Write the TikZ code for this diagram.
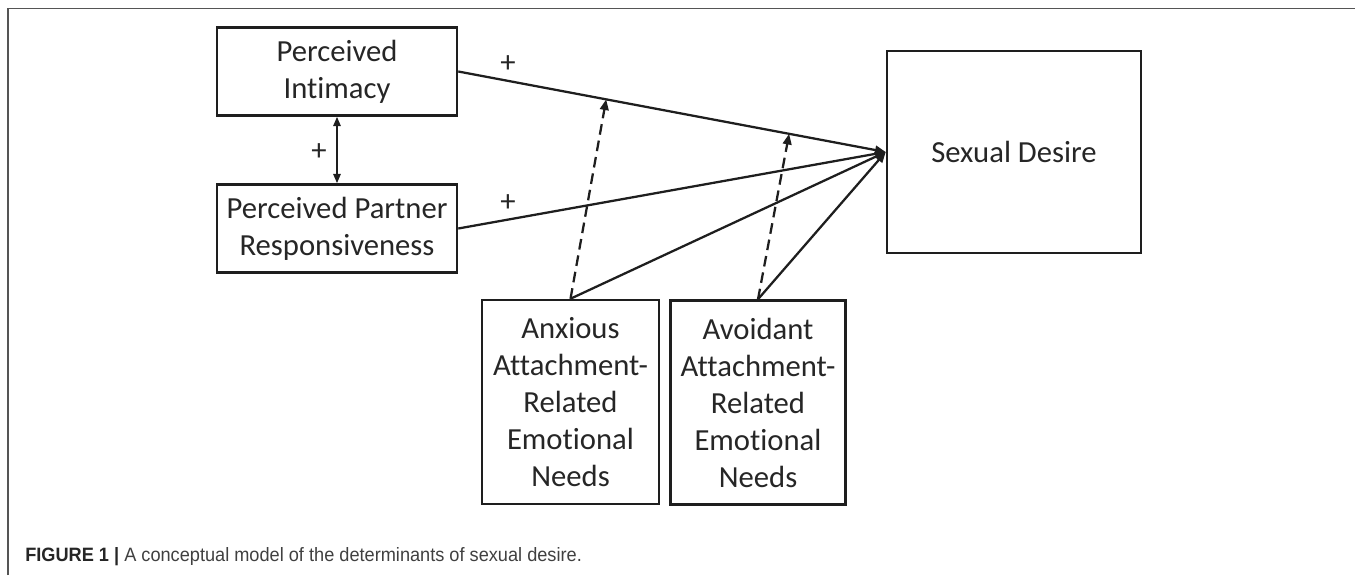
\documentclass[tikz,border=0pt]{standalone}
\usepackage{fontspec}
\setmainfont[Ligatures={NoCommon}]{Carlito}
\newfontfamily\capfont[FakeStretch=0.94]{Liberation Sans}
\usetikzlibrary{arrows.meta,calc}
\definecolor{ink}{HTML}{1E1E1E}
\definecolor{txt}{HTML}{262626}
\definecolor{frame}{HTML}{555555}
\begin{document}
\begin{tikzpicture}[x=0.75pt,y=-0.75pt,
  box/.style={draw=ink, line width=1.9pt, inner sep=0pt, align=center,
    font=\fontsize{23}{27.75}\selectfont, text=txt},
  conn/.style={line width=1.7pt, draw=ink, -{Triangle[length=8pt,width=6.5pt]}},
  modline/.style={conn, dash pattern=on 8pt off 4.5pt},
  plus/.style={font=\fontsize{23}{24}\selectfont, text=txt, inner sep=0pt},
  caption/.style={anchor=base west, inner sep=0pt, font=\capfont\fontsize{14.5}{16}\selectfont}
]
\useasboundingbox (0,0) rectangle (1355,575);
\draw[frame, line width=1.2pt] (8,575) -- (8,8.5) -- (1355,8.5);

\node[box, minimum width=180pt, minimum height=66pt] (PI) at (337,71.5) {Perceived\\Intimacy};
\node[box, minimum width=180pt, minimum height=66pt] (PPR) at (337,228.5) {Perceived Partner\\Responsiveness};
\node[box, minimum width=190.5pt, minimum height=151.5pt] (SD) at (1014,152) {Sexual Desire};
\node[box, minimum width=132.75pt, minimum height=153pt] (ANX) at (570.5,402) {Anxious\\Attachment-\\Related\\Emotional\\Needs};
\node[box, minimum width=131.6pt, minimum height=153pt] (AVO) at (758,402.5) {Avoidant\\Attachment-\\Related\\Emotional\\Needs};

\coordinate (m1) at ($(PI.east)!0.346!(SD.west)$);
\coordinate (m2) at ($(PI.east)!0.774!(SD.west)$);

\draw[line width=1.4pt, draw=ink, {Triangle[length=7pt,width=5.5pt]}-{Triangle[length=7pt,width=5.5pt]}] (PI.south) -- (PPR.north);
\draw[conn] (PI.east) -- (SD.west);
\draw[conn] (PPR.east) -- (SD.west);
\draw[conn] (ANX.north) -- (SD.west);
\draw[conn] (AVO.north) -- (SD.west);
\draw[modline] (ANX.north) -- (m1);
\draw[modline] (AVO.north) -- (m2);

\node[plus] (p1) at (319,152) {+};
\node[plus] (p2) at (508,64) {+};
\node[plus] (p3) at (508,203) {+};

\node[caption] (cap) at (25,561.5) {\textcolor{txt}{\textbf{FIGURE 1 |}} \textcolor{black!75}{A conceptual model of the determinants of sexual desire.}};
\end{tikzpicture}
\end{document}
